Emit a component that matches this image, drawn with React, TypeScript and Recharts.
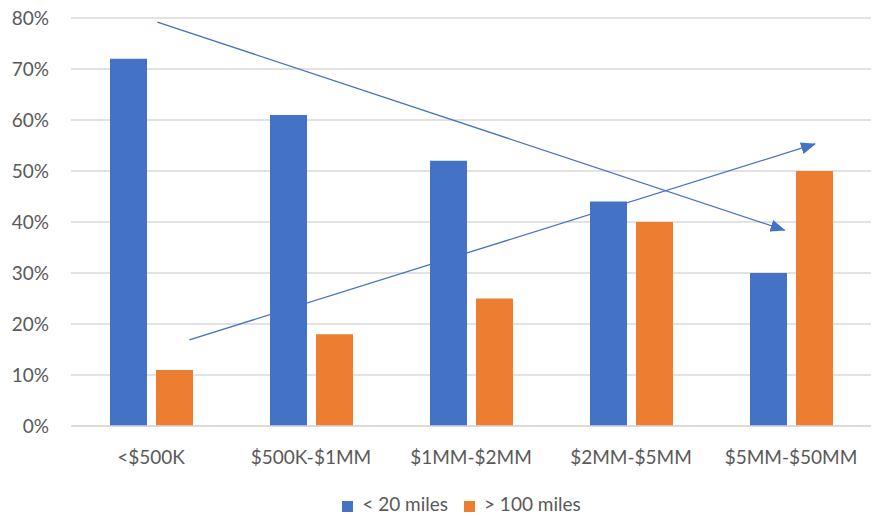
import React from "react";
import {
  Bar,
  BarChart,
  CartesianGrid,
  Legend,
  ReferenceLine,
  XAxis,
  YAxis,
} from "recharts";

const categories = ["<$500K", "$500K-$1MM", "$1MM-$2MM", "$2MM-$5MM", "$5MM-$50MM"];
const near = [72, 61, 52, 44, 30];
const far = [11, 18, 25, 40, 50];
const yTicks = [0, 10, 20, 30, 40, 50, 60, 70, 80];

// hand-drawn trend arrows, in (category position, percent)
const arrowDown = [
  { x: 0.54, y: 79.2 },
  { x: 4.46, y: 38.4 },
];
const arrowUp = [
  { x: 0.74, y: 16.9 },
  { x: 4.65, y: 55.3 },
];

const data = categories.map((name, i) => ({ name, pos: i + 0.5, near: near[i], far: far[i] }));

const BLUE = "#4472C4";
const ORANGE = "#ED7D31";
const FONT = "Lato, 'Open Sans', sans-serif";

function Arrow(props: any) {
  const { x1, y1, x2, y2 } = props;
  return (
    <line
      x1={x1}
      y1={y1}
      x2={x2}
      y2={y2}
      stroke={BLUE}
      strokeWidth={1.3}
      markerEnd="url(#arrowhead)"
    />
  );
}

export default function App() {
  return (
    <div style={{ position: "absolute", left: 0, top: 0, background: "#fff" }}>
      <svg width={0} height={0} style={{ position: "absolute" }}>
        <defs>
          <marker
            id="arrowhead"
            markerWidth="16"
            markerHeight="12"
            refX="14"
            refY="6"
            orient="auto"
            markerUnits="userSpaceOnUse"
          >
            <path d="M0,0 L15,6 L0,12 Z" fill={BLUE} />
          </marker>
        </defs>
      </svg>
      <BarChart
        width={879}
        height={516}
        data={data}
        margin={{ top: 18, right: 8, left: 0, bottom: 0 }}
        barGap={9}
        barSize={37}
        style={{ fontFamily: FONT }}
      >
        <CartesianGrid xAxisId="cat" vertical={false} stroke="#d9d9d9" strokeWidth={1.5} />
        <XAxis
          xAxisId="cat"
          dataKey="name"
          height={47}
          tickLine={false}
          axisLine={{ stroke: "#d9d9d9", strokeWidth: 1.5 }}
          tick={{ fill: "#595959", fontSize: 19 }}
          tickMargin={19}
        />
        <XAxis
          xAxisId="n"
          dataKey="pos"
          type="number"
          domain={[0, 5]}
          allowDataOverflow
          padding={{ left: 0, right: 0 }}
          hide
        />
        <YAxis
          width={71}
          domain={[0, 80]}
          ticks={yTicks}
          tickFormatter={(v) => `${v}%`}
          tickLine={false}
          axisLine={false}
          tick={{ fill: "#595959", fontSize: 19 }}
          tickMargin={16}
        />
        <Legend
          verticalAlign="bottom"
          iconType="square"
          iconSize={11}
          wrapperStyle={{ paddingTop: 20, paddingLeft: 34, lineHeight: "22px" }}
          formatter={(v) => (
            <span style={{ color: "#595959", fontSize: 19, marginLeft: 5, marginRight: 6 }}>{v}</span>
          )}
        />
        <Bar xAxisId="cat" dataKey="near" name="< 20 miles" fill={BLUE} isAnimationActive={false} />
        <Bar xAxisId="cat" dataKey="far" name="> 100 miles" fill={ORANGE} isAnimationActive={false} />
        <ReferenceLine
          xAxisId="n"
          segment={arrowDown}
          shape={(p: any) => <Arrow {...p} />}
          ifOverflow="visible"
        />
        <ReferenceLine
          xAxisId="n"
          segment={arrowUp}
          shape={(p: any) => <Arrow {...p} />}
          ifOverflow="visible"
        />
      </BarChart>
    </div>
  );
}
